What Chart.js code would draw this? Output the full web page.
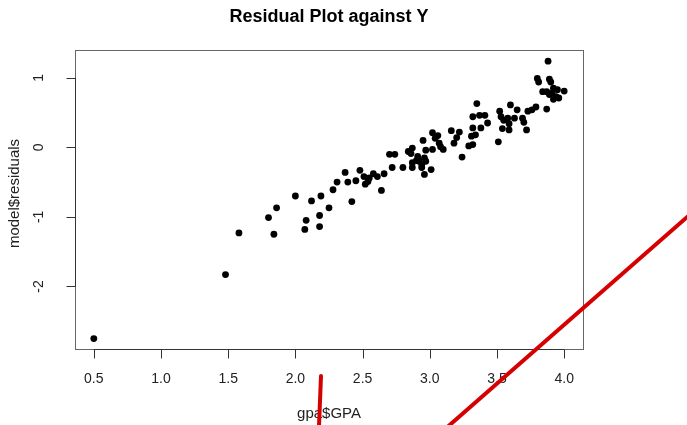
<!DOCTYPE html>
<html>
<head>
<meta charset="utf-8">
<script src="https://cdn.jsdelivr.net/npm/chart.js@4/dist/chart.umd.min.js"></script>
<style>
  html, body { margin: 0; padding: 0; background: #fff; }
  #grafico { display: block; }
</style>
</head>
<body>
<canvas id="grafico" width="687" height="425"></canvas>
<script>
const gpa = [
  0.50, 1.48, 1.58, 1.80, 1.86, 1.84, 2.00, 2.07, 2.08, 2.12,
  2.18, 2.18, 2.19, 2.25, 2.28, 2.31, 2.37, 2.39, 2.42, 2.45,
  2.48, 2.51, 2.54, 2.55, 2.58, 2.52, 2.61, 2.64, 2.66, 2.70,
  2.74, 2.72, 2.80, 2.84, 2.87, 2.86, 2.87, 2.87, 2.91, 2.92,
  2.94, 2.96, 2.97, 2.90, 2.94, 2.95, 2.97, 3.02, 2.96, 3.01,
  3.02, 3.04, 3.06, 3.07, 3.08, 3.10, 3.16, 3.22, 3.20, 3.18,
  3.24, 3.31, 3.32, 3.29, 3.32, 3.35, 3.32, 3.37, 3.41, 3.43,
  3.38, 3.34, 3.51, 3.52, 3.53, 3.55, 3.54, 3.59, 3.60, 3.65,
  3.59, 3.58, 3.63, 3.69, 3.70, 3.72, 3.73, 3.76, 3.79, 3.87,
  3.88, 3.80, 3.81, 3.89, 3.90, 3.84, 3.87, 3.89, 3.92, 3.95,
  4.00, 3.94, 3.92, 3.96, 3.91
];
const residuos = [
  -2.75, -1.83, -1.23, -1.01, -0.87, -1.25, -0.70, -1.18, -1.05, -0.77,
  -1.14, -0.98, -0.70, -0.87, -0.61, -0.50, -0.36, -0.50, -0.78, -0.48,
  -0.33, -0.42, -0.49, -0.44, -0.38, -0.53, -0.42, -0.62, -0.38, -0.10,
  -0.10, -0.29, -0.29, -0.06, -0.01, -0.09, -0.22, -0.29, -0.13, -0.20,
  -0.25, -0.15, -0.20, -0.19, -0.29, 0.10, -0.04, -0.03, -0.39, -0.32,
  0.21, 0.13, 0.17, 0.06, 0.01, -0.03, 0.24, 0.22, 0.14, 0.06,
  -0.14, 0.16, 0.28, 0.02, 0.04, 0.63, 0.44, 0.46, 0.46, 0.35,
  0.28, 0.18, 0.08, 0.52, 0.44, 0.39, 0.27, 0.34, 0.61, 0.54,
  0.25, 0.42, 0.42, 0.42, 0.36, 0.25, 0.52, 0.54, 0.58, 0.55,
  1.24, 0.99, 0.94, 0.98, 0.94, 0.80, 0.80, 0.76, 0.85, 0.83,
  0.81, 0.73, 0.69, 0.71, 0.78
];
const ticksX = [0.5, 1.0, 1.5, 2.0, 2.5, 3.0, 3.5, 4.0];
const ticksY = [-2, -1, 0, 1];

// tracos vermelhos desenhados por cima da imagem (pixels do canvas)
const tracosCaneta = [
  [[436, 437], [694, 211]],
  [[321, 376], [319, 426]]
];

const fonte = '"Liberation Sans", Arial, Helvetica, sans-serif';

// eixos no estilo do R base
const eixosR = {
  id: 'eixosR',
  afterDraw(chart) {
    const ctx = chart.ctx;
    const area = chart.chartArea;
    const sx = chart.scales.x;
    const sy = chart.scales.y;
    ctx.save();

    // caixa
    ctx.strokeStyle = '#666';
    ctx.lineWidth = 1;
    ctx.strokeRect(Math.round(area.left) + 0.5, Math.round(area.top) + 0.5,
      Math.round(area.right - area.left), Math.round(area.bottom - area.top));

    // eixo x
    ctx.strokeStyle = '#333';
    const yb = Math.round(area.bottom) + 0.5;
    ctx.beginPath();
    ctx.moveTo(sx.getPixelForValue(ticksX[0]), yb);
    ctx.lineTo(sx.getPixelForValue(ticksX[ticksX.length - 1]), yb);
    ticksX.forEach(v => {
      const px = Math.round(sx.getPixelForValue(v)) + 0.5;
      ctx.moveTo(px, yb);
      ctx.lineTo(px, yb + 9);
    });
    ctx.stroke();

    ctx.fillStyle = '#222';
    ctx.font = '14px ' + fonte;
    ctx.textAlign = 'center';
    ctx.textBaseline = 'middle';
    ticksX.forEach(v => {
      ctx.fillText(v.toFixed(1), sx.getPixelForValue(v), area.bottom + 30);
    });

    // eixo y
    const xl = Math.round(area.left) + 0.5;
    ctx.beginPath();
    ctx.moveTo(xl, sy.getPixelForValue(ticksY[0]));
    ctx.lineTo(xl, sy.getPixelForValue(ticksY[ticksY.length - 1]));
    ticksY.forEach(v => {
      const py = Math.round(sy.getPixelForValue(v)) + 0.5;
      ctx.moveTo(xl, py);
      ctx.lineTo(xl - 9, py);
    });
    ctx.stroke();

    ticksY.forEach(v => {
      ctx.save();
      ctx.translate(area.left - 36, sy.getPixelForValue(v));
      ctx.rotate(-Math.PI / 2);
      ctx.fillText(String(v), 0, 0);
      ctx.restore();
    });

    // titulos
    const cx = (area.left + area.right) / 2;
    ctx.font = 'bold 18px ' + fonte;
    ctx.fillStyle = '#000';
    ctx.textBaseline = 'alphabetic';
    ctx.fillText('Residual Plot against Y', cx, 22);
    ctx.textBaseline = 'middle';

    ctx.font = '15px ' + fonte;
    ctx.fillStyle = '#222';
    ctx.fillText('gpa$GPA', cx, 414);

    ctx.save();
    ctx.translate(15, (area.top + area.bottom) / 2 - 6);
    ctx.rotate(-Math.PI / 2);
    ctx.fillText('model$residuals', 0, 0);
    ctx.restore();

    // tracos de caneta
    ctx.strokeStyle = '#d60000';
    ctx.lineWidth = 4;
    ctx.lineCap = 'round';
    tracosCaneta.forEach(t => {
      ctx.beginPath();
      ctx.moveTo(t[0][0], t[0][1]);
      ctx.lineTo(t[1][0], t[1][1]);
      ctx.stroke();
    });

    ctx.restore();
  }
};

new Chart(document.getElementById('grafico'), {
  type: 'scatter',
  data: {
    datasets: [{
      label: 'residuos',
      data: gpa.map((g, i) => ({ x: g, y: residuos[i] })),
      backgroundColor: '#000',
      borderWidth: 0,
      pointRadius: 3.4,
      pointHoverRadius: 3.4
    }]
  },
  options: {
    responsive: false,
    devicePixelRatio: 1,
    animation: false,
    layout: { padding: { left: 75, top: 50, right: 104, bottom: 76 } },
    plugins: {
      legend: { display: false },
      title: { display: false },
      tooltip: { enabled: false }
    },
    scales: {
      x: { type: 'linear', min: 0.36, max: 4.14, display: false },
      y: { type: 'linear', min: -2.90, max: 1.40, display: false }
    }
  },
  plugins: [eixosR]
});
</script>
</body>
</html>
